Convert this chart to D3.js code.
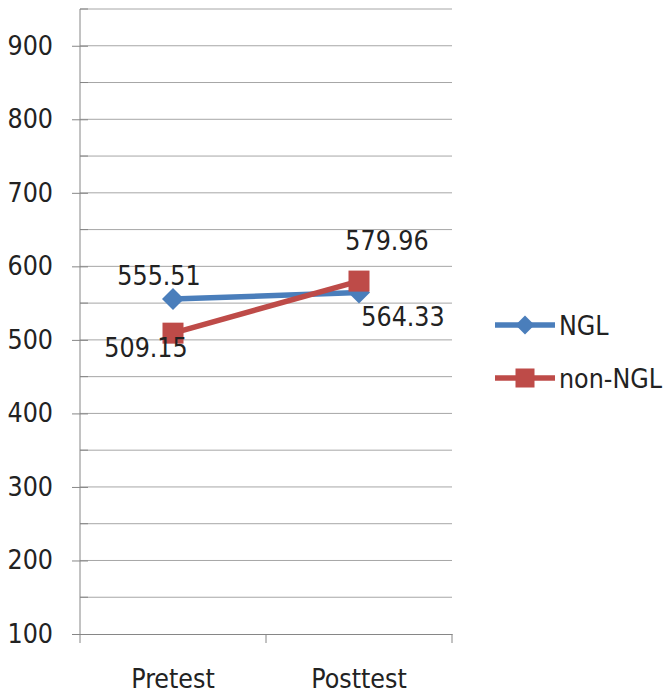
<!DOCTYPE html>
<html lang="en">
<head>
  <meta charset="UTF-8">
  <title>NGL vs non-NGL</title>
  <script src="https://d3js.org/d3.v7.min.js"></script>
  <style>
    body {
      margin: 0;
      background: white;
    }
    svg text {
      font-family: "DejaVu Sans Condensed", "DejaVu Sans", sans-serif;
      font-stretch: condensed;
      fill: #222;
    }
  </style>
</head>
<body>
  <div id="chart"></div>

  <script>
    // chart data
    const categories = ["Pretest", "Posttest"];
    const seriesNames = ["NGL", "non-NGL"];
    const nglValues = [555.51, 564.33];
    const nonNglValues = [509.15, 579.96];
    const yTickLabels = [100, 200, 300, 400, 500, 600, 700, 800, 900];
    const yDomain = [100, 950];

    const width = 666;
    const height = 696;
    const plot = { left: 80, right: 452, top: 9, bottom: 634 };
    const fontSize = 26.5;

    // label offsets from each point (px), per series / per category
    const labelOffsets = [
      [[-14, -14], [44, 33]],
      [[-27, 24], [28, -31]]
    ];

    const series = [
      { name: seriesNames[0], values: nglValues, color: "#4A7EBB", marker: "diamond" },
      { name: seriesNames[1], values: nonNglValues, color: "#BE4B48", marker: "square" }
    ];

    const svg = d3.select("#chart")
      .append("svg")
      .attr("width", width)
      .attr("height", height);

    const x = d3.scaleBand()
      .domain(categories)
      .range([plot.left, plot.right])
      .padding(0);

    const y = d3.scaleLinear()
      .domain(yDomain)
      .range([plot.bottom, plot.top]);

    const cx = c => x(c) + x.bandwidth() / 2;

    // gridlines every 50
    const gridValues = d3.range(yDomain[0] + 50, yDomain[1] + 1, 50);
    svg.append("g")
      .selectAll("line")
      .data(gridValues)
      .join("line")
      .attr("x1", plot.left)
      .attr("x2", plot.right)
      .attr("y1", d => y(d))
      .attr("y2", d => y(d))
      .attr("stroke", "#a6a6a6")
      .attr("stroke-width", 1);

    // minor ticks (inside)
    svg.append("g")
      .selectAll("line")
      .data(gridValues.filter(v => v % 100 !== 0))
      .join("line")
      .attr("x1", plot.left)
      .attr("x2", plot.left + 8)
      .attr("y1", d => y(d))
      .attr("y2", d => y(d))
      .attr("stroke", "#868686");

    // y axis
    const yAxis = d3.axisLeft(y)
      .tickValues(yTickLabels)
      .tickSize(8)
      .tickPadding(19)
      .tickFormat(d3.format("d"));

    const gy = svg.append("g")
      .attr("transform", `translate(${plot.left},0)`)
      .call(yAxis);
    gy.select(".domain").remove();
    gy.selectAll(".tick line").attr("stroke", "#868686").attr("x2", -8).attr("x1", 8);
    gy.selectAll(".tick text").attr("font-size", fontSize).attr("fill", "#222");

    svg.append("line")
      .attr("x1", plot.left).attr("x2", plot.left)
      .attr("y1", plot.top).attr("y2", plot.bottom)
      .attr("stroke", "#868686");

    // x axis
    const xAxis = d3.axisBottom(x).tickSize(0).tickPadding(0);
    const gx = svg.append("g")
      .attr("transform", `translate(0,${plot.bottom})`)
      .call(xAxis);
    gx.select(".domain").attr("stroke", "#868686");
    gx.selectAll(".tick text")
      .attr("font-size", fontSize)
      .attr("fill", "#222")
      .attr("dy", null)
      .attr("y", 54);

    // x tick marks at band edges
    svg.append("g")
      .selectAll("line")
      .data([...categories.map(c => x(c)), plot.right])
      .join("line")
      .attr("x1", d => d).attr("x2", d => d)
      .attr("y1", plot.bottom).attr("y2", plot.bottom + 9)
      .attr("stroke", "#868686");

    function drawMarker(g, type, px, py, color, size) {
      if (type === "diamond") {
        g.append("path")
          .attr("d", `M${px},${py - size}L${px + size},${py}L${px},${py + size}L${px - size},${py}Z`)
          .attr("fill", color);
      } else {
        g.append("rect")
          .attr("x", px - size).attr("y", py - size)
          .attr("width", size * 2).attr("height", size * 2)
          .attr("fill", color);
      }
    }

    const line = d3.line()
      .x((d, i) => cx(categories[i]))
      .y(d => y(d));

    series.forEach((s, si) => {
      const g = svg.append("g");
      g.append("path")
        .datum(s.values)
        .attr("d", line)
        .attr("fill", "none")
        .attr("stroke", s.color)
        .attr("stroke-width", 5.5)
        .attr("stroke-linejoin", "round");
      s.values.forEach((v, i) => {
        drawMarker(g, s.marker, cx(categories[i]), y(v), s.color, s.marker === "diamond" ? 11 : 10.5);
      });
    });

    // data labels
    series.forEach((s, si) => {
      s.values.forEach((v, i) => {
        const [dx, dy] = labelOffsets[si][i];
        svg.append("text")
          .attr("x", cx(categories[i]) + dx)
          .attr("y", y(v) + dy)
          .attr("text-anchor", "middle")
          .attr("font-size", fontSize)
          .text(d3.format(".2f")(v));
      });
    });

    // legend
    const legend = svg.append("g").attr("transform", "translate(495,325)");
    series.forEach((s, i) => {
      const g = legend.append("g").attr("transform", `translate(0,${i * 53})`);
      g.append("line")
        .attr("x1", 0).attr("x2", 60)
        .attr("stroke", s.color)
        .attr("stroke-width", 5.5);
      drawMarker(g, s.marker, 30, 0, s.color, 9.5);
      g.append("text")
        .attr("x", 64)
        .attr("y", 0)
        .attr("dy", "0.36em")
        .attr("font-size", fontSize)
        .text(s.name);
    });
  </script>
</body>
</html>
